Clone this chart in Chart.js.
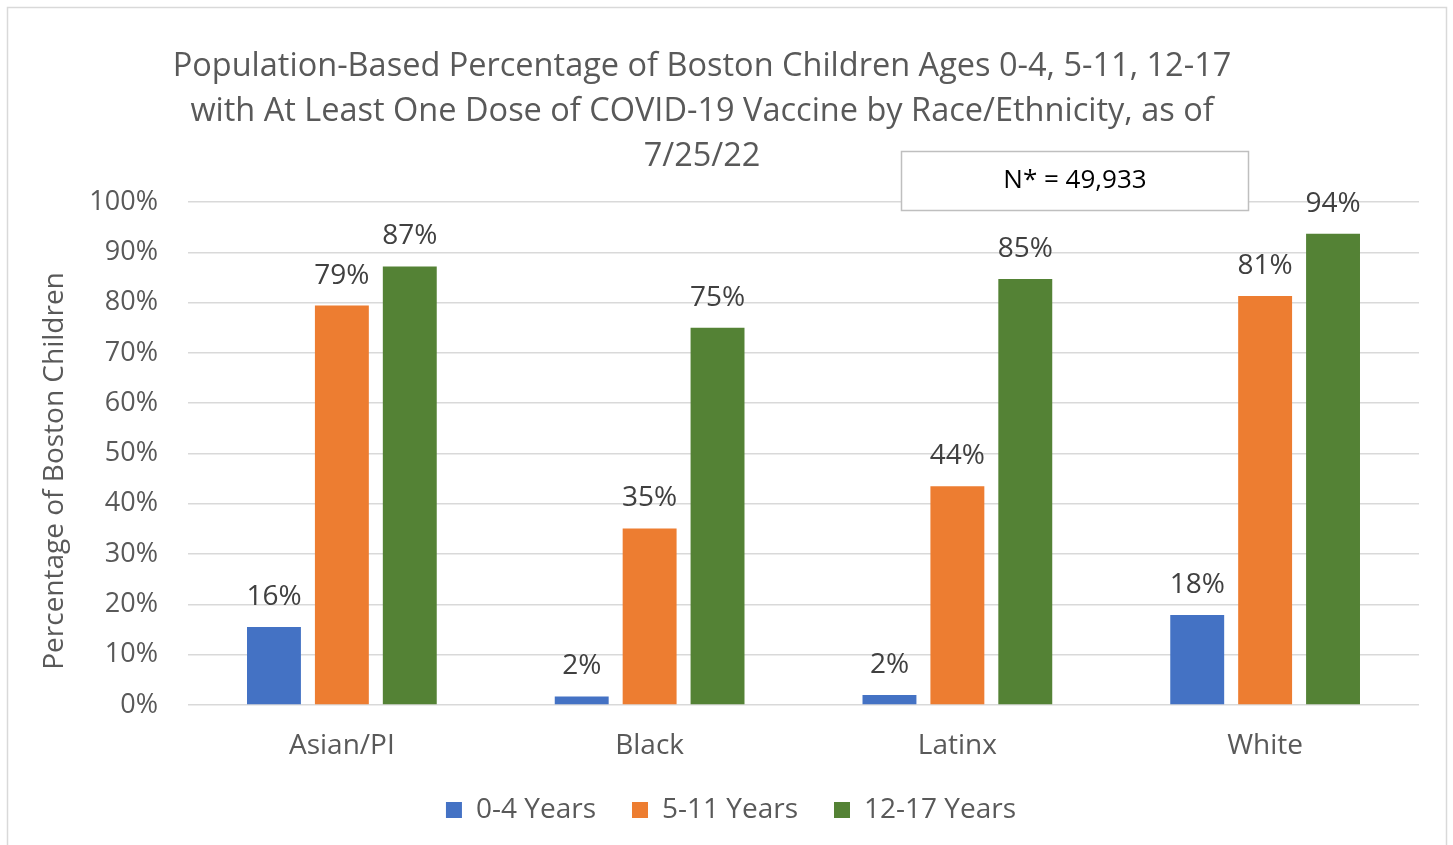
<!DOCTYPE html>
<html>
<head>
<meta charset="utf-8">
<script src="https://cdn.jsdelivr.net/npm/chart.js@4"></script>
<style>
  html, body { margin: 0; padding: 0; background: #fff; }
  #wrap { position: relative; width: 1453px; height: 845px; }
</style>
</head>
<body>
<div id="wrap"><canvas id="chart"></canvas></div>
<script>
// Data
const categories = ["Asian/PI", "Black", "Latinx", "White"];
const seriesNames = ["0-4 Years", "5-11 Years", "12-17 Years"];
const ages0to4 = [15.5, 1.7, 2.0, 17.9];
const ages5to11 = [79.4, 35.1, 43.5, 81.3];
const ages12to17 = [87.2, 75.0, 84.7, 93.7];
const yTicks = [0, 10, 20, 30, 40, 50, 60, 70, 80, 90, 100];

const titleLines = [
  "Population-Based Percentage of Boston Children Ages 0-4, 5-11, 12-17",
  "with At Least One Dose of COVID-19 Vaccine by Race/Ethnicity, as of",
  "7/25/22",
];
const yTitle = "Percentage of Boston Children";
const noteText = "N* = 49,933";

const colors = ["#4472C4", "#ED7D31", "#548235"];
const FONT = "'Open Sans', sans-serif";
const textGray = "#595959";

Chart.defaults.font.family = FONT;
Chart.defaults.color = textGray;

// frame, titles and N* box drawn on the canvas
const decorPlugin = {
  id: "decor",
  beforeDraw(chart) {
    const ctx = chart.ctx;
    ctx.save();
    ctx.strokeStyle = "#d9d9d9";
    ctx.lineWidth = 1.5;
    ctx.beginPath();
    ctx.moveTo(7.5, 850);
    ctx.lineTo(7.5, 7.5);
    ctx.lineTo(1446.5, 7.5);
    ctx.lineTo(1446.5, 850);
    ctx.stroke();
    ctx.restore();
  },
  afterDraw(chart) {
    const ctx = chart.ctx;
    ctx.save();
    ctx.fillStyle = textGray;
    ctx.font = "32.5px " + FONT;
    ctx.textAlign = "center";
    ctx.textBaseline = "middle";
    titleLines.forEach((line, i) => {
      ctx.fillText(line, 702, 67 + i * 45);
    });

    // y axis title
    ctx.save();
    ctx.translate(55, 471);
    ctx.rotate(-Math.PI / 2);
    ctx.font = "28px " + FONT;
    ctx.fillText(yTitle, 0, 0);
    ctx.restore();

    // N* note box
    ctx.fillStyle = "#ffffff";
    ctx.fillRect(901, 151, 347, 59);
    ctx.strokeStyle = "#bfbfbf";
    ctx.lineWidth = 1.5;
    ctx.strokeRect(901.5, 151.5, 347, 59);
    ctx.fillStyle = "#000000";
    ctx.font = "26px " + FONT;
    ctx.fillText(noteText, 1075, 181);
    ctx.restore();
  },
};

// value labels above each bar
const valueLabelPlugin = {
  id: "valueLabels",
  afterDatasetsDraw(chart) {
    const ctx = chart.ctx;
    ctx.save();
    ctx.fillStyle = "#404040";
    ctx.font = "28px " + FONT;
    ctx.textAlign = "center";
    ctx.textBaseline = "middle";
    chart.data.datasets.forEach((ds, di) => {
      const meta = chart.getDatasetMeta(di);
      meta.data.forEach((bar, i) => {
        ctx.fillText(Math.round(ds.data[i]) + "%", bar.x, bar.y - 30);
      });
    });
    ctx.restore();
  },
};

const seriesData = [ages0to4, ages5to11, ages12to17];
const datasets = seriesNames.map((name, i) => ({
  label: name,
  data: seriesData[i],
  backgroundColor: colors[i],
  borderWidth: 0,
  categoryPercentage: 0.662,
  barPercentage: 0.794,
}));

new Chart(document.getElementById("chart"), {
  type: "bar",
  data: { labels: categories, datasets: datasets },
  options: {
    responsive: true,
    maintainAspectRatio: false,
    animation: false,
    layout: { padding: { top: 202, right: 34, left: 43, bottom: 11 } },
    scales: {
      x: {
        grid: { display: false },
        border: { display: false },
        ticks: { font: { size: 28 }, color: textGray, padding: 16 },
        afterFit(scale) { scale.height = 55; },
      },
      y: {
        min: 0,
        max: 100,
        afterBuildTicks(scale) { scale.ticks = yTicks.map((v) => ({ value: v })); },
        afterFit(scale) { scale.width = 145; },
        grid: { color: "#d9d9d9", lineWidth: 1.5, drawTicks: false },
        border: { display: false },
        ticks: {
          font: { size: 27 },
          color: textGray,
          padding: 30,
          callback: (v) => v + "%",
        },
      },
    },
    plugins: {
      legend: {
        position: "bottom",
        labels: {
          boxWidth: 16,
          boxHeight: 16,
          padding: 36,
          font: { size: 28 },
          color: textGray,
        },
      },
      title: { display: false },
      tooltip: { enabled: false },
    },
  },
  plugins: [decorPlugin, valueLabelPlugin],
});
</script>
</body>
</html>
